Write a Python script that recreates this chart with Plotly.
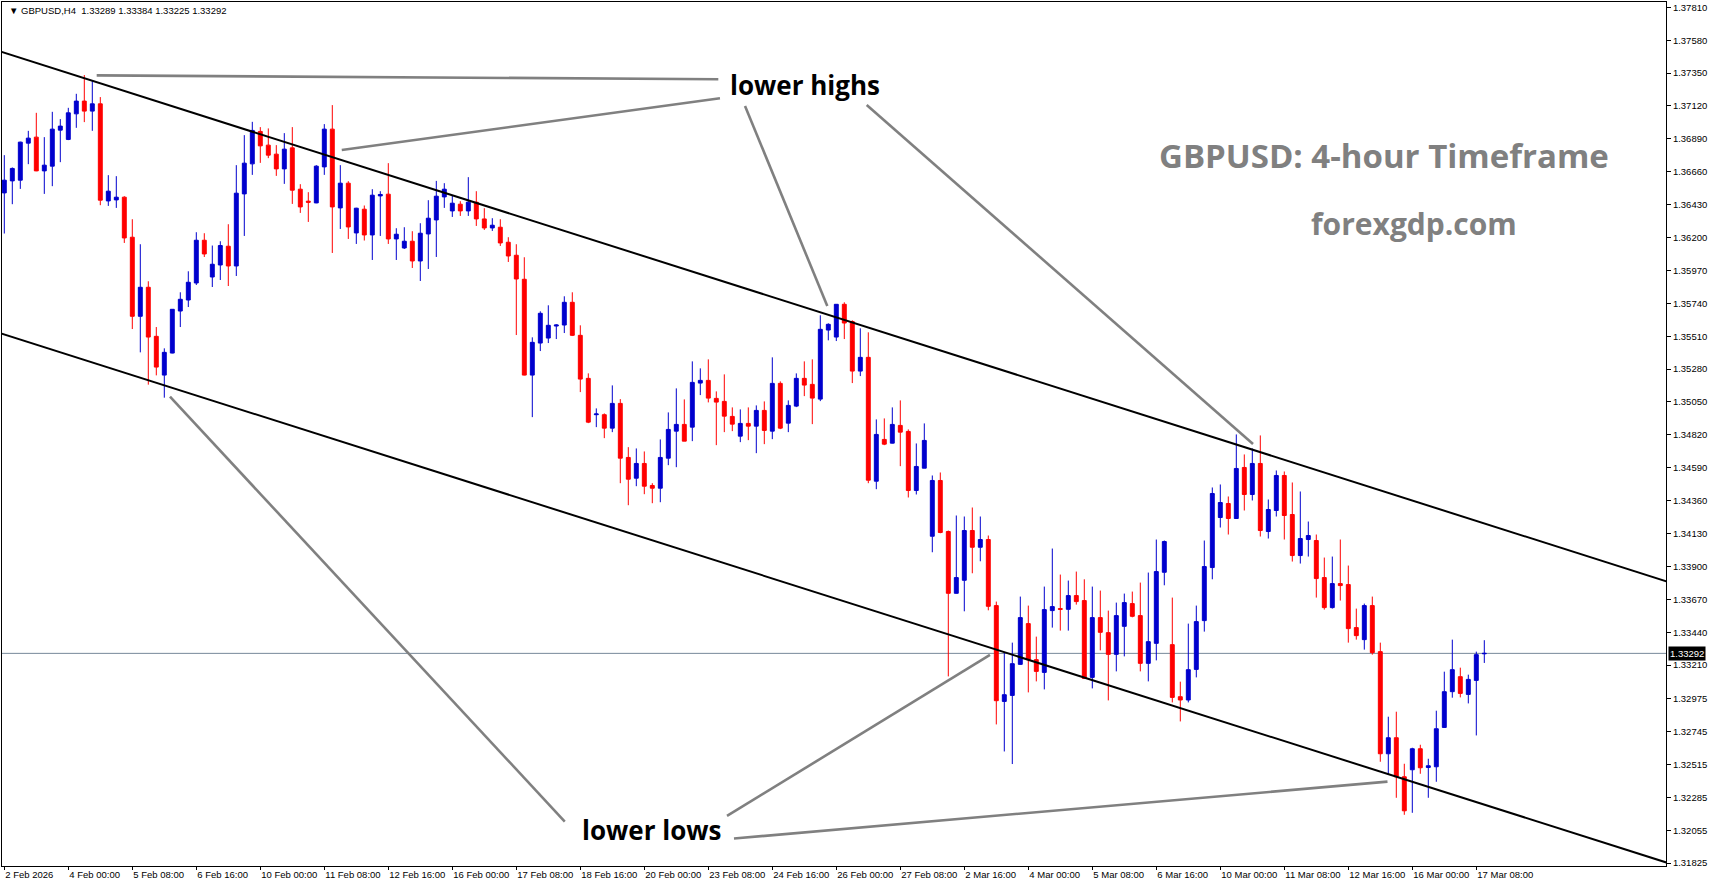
import plotly.graph_objects as go

# ---------------- data (GBPUSD H4, bar index 4 = 2 Feb 2026 16:00) ----------------
bars = list(range(4, 190))

open_ = [
    1.36512, 1.36596, 1.36601, 1.36860, 1.36902, 1.36666, 1.36699, 1.36951, 1.36886, 1.37065,
    1.37154, 1.37084, 1.37135, 1.36456, 1.36463, 1.36482, 1.36202, 1.35649, 1.35852, 1.35509,
    1.35238, 1.35392, 1.35686, 1.35763, 1.35882, 1.36181, 1.35924, 1.36008, 1.36139, 1.36001,
    1.36505, 1.36715, 1.36942, 1.36846, 1.36783, 1.36680, 1.36827, 1.36538, 1.36454, 1.36442,
    1.36694, 1.36958, 1.36407, 1.36580, 1.36232, 1.36398, 1.36218, 1.36491, 1.36503, 1.36190,
    1.36127, 1.36174, 1.36036, 1.36225, 1.36323, 1.36484, 1.36386, 1.36433, 1.36386, 1.36447,
    1.36330, 1.36267, 1.36272, 1.36167, 1.36076, 1.35908, 1.35238, 1.35462, 1.35497, 1.35581,
    1.35588, 1.35747, 1.35516, 1.35215, 1.34961, 1.34961, 1.34867, 1.35040, 1.34662, 1.34517,
    1.34620, 1.34466, 1.34447, 1.34657, 1.34846, 1.34893, 1.34874, 1.35182, 1.35201, 1.35075,
    1.35054, 1.34949, 1.34811, 1.34900, 1.34881, 1.34991, 1.34846, 1.35180, 1.34902, 1.35021,
    1.35215, 1.35173, 1.35070, 1.35553, 1.35504, 1.35733, 1.35612, 1.35266, 1.35362, 1.34496,
    1.34788, 1.34762, 1.34886, 1.34844, 1.34431, 1.34587, 1.34111, 1.34501, 1.34144, 1.33712,
    1.33803, 1.34151, 1.34034, 1.34088, 1.33626, 1.32956, 1.32998, 1.33215, 1.33500, 1.33248,
    1.33159, 1.33591, 1.33605, 1.33600, 1.33696, 1.33661, 1.33124, 1.33542, 1.33437, 1.33285,
    1.33481, 1.33640, 1.33556, 1.33222, 1.33362, 1.33859, 1.33353, 1.32989, 1.32966, 1.33180,
    1.33521, 1.33892, 1.34242, 1.34340, 1.34235, 1.34592, 1.34403, 1.34620, 1.34144, 1.34291,
    1.34536, 1.34263, 1.33976, 1.34088, 1.34081, 1.33822, 1.33612, 1.33780, 1.33773, 1.33472,
    1.33388, 1.33626, 1.33304, 1.32590, 1.32702, 1.32429, 1.32478, 1.32625, 1.32494, 1.32499,
    1.32774, 1.33024, 1.33129, 1.33005, 1.33103, 1.33289,
]
high = [
    1.36776, 1.36690, 1.36870, 1.36946, 1.37072, 1.36902, 1.37079, 1.37028, 1.37107, 1.37205,
    1.37336, 1.37301, 1.37182, 1.36636, 1.36629, 1.36489, 1.36328, 1.36153, 1.35894, 1.35574,
    1.35425, 1.35700, 1.35817, 1.35964, 1.36237, 1.36230, 1.36144, 1.36174, 1.36293, 1.36706,
    1.36916, 1.37009, 1.36972, 1.36963, 1.36846, 1.36930, 1.36972, 1.36573, 1.36517, 1.36706,
    1.36993, 1.37126, 1.36706, 1.36594, 1.36408, 1.36424, 1.36538, 1.36524, 1.36720, 1.36265,
    1.36272, 1.36244, 1.36300, 1.36461, 1.36596, 1.36580, 1.36496, 1.36454, 1.36622, 1.36524,
    1.36405, 1.36335, 1.36328, 1.36202, 1.36153, 1.36062, 1.35502, 1.35684, 1.35726, 1.35593,
    1.35789, 1.35817, 1.35586, 1.35250, 1.35005, 1.34970, 1.35166, 1.35070, 1.34734, 1.34725,
    1.34704, 1.34482, 1.34788, 1.34977, 1.35145, 1.35068, 1.35334, 1.35285, 1.35348, 1.35124,
    1.35243, 1.35012, 1.34998, 1.35012, 1.35026, 1.35054, 1.35362, 1.35194, 1.35061, 1.35250,
    1.35334, 1.35348, 1.35656, 1.35600, 1.35735, 1.35747, 1.35621, 1.35565, 1.35537, 1.34928,
    1.34935, 1.35012, 1.35061, 1.34858, 1.34760, 1.34900, 1.34536, 1.34557, 1.34151, 1.34256,
    1.34249, 1.34312, 1.34249, 1.34116, 1.33654, 1.33299, 1.33367, 1.33689, 1.33626, 1.33409,
    1.33759, 1.34025, 1.33843, 1.33801, 1.33864, 1.33810, 1.33759, 1.33731, 1.33591, 1.33647,
    1.33710, 1.33724, 1.33787, 1.33857, 1.34088, 1.34081, 1.33682, 1.33094, 1.33500, 1.33626,
    1.34081, 1.34452, 1.34473, 1.34389, 1.34823, 1.34683, 1.34725, 1.34816, 1.34368, 1.34571,
    1.34564, 1.34487, 1.34424, 1.34214, 1.34123, 1.33962, 1.33969, 1.34088, 1.33906, 1.33605,
    1.33640, 1.33689, 1.33367, 1.32849, 1.32884, 1.32520, 1.32632, 1.32653, 1.32555, 1.32891,
    1.33164, 1.33388, 1.33192, 1.33143, 1.33304, 1.33384,
]
low = [
    1.36228, 1.36433, 1.36540, 1.36713, 1.36664, 1.36505, 1.36559, 1.36727, 1.36881, 1.36967,
    1.37007, 1.36946, 1.36426, 1.36421, 1.36407, 1.36162, 1.35560, 1.35397, 1.35171, 1.35236,
    1.35080, 1.35390, 1.35574, 1.35714, 1.35868, 1.36064, 1.35854, 1.35903, 1.35861, 1.35931,
    1.36211, 1.36638, 1.36722, 1.36755, 1.36631, 1.36575, 1.36435, 1.36372, 1.36309, 1.36440,
    1.36638, 1.36092, 1.36260, 1.36190, 1.36155, 1.36179, 1.36043, 1.36211, 1.36155, 1.36043,
    1.36120, 1.35987, 1.35896, 1.35980, 1.36064, 1.36407, 1.36344, 1.36351, 1.36351, 1.36281,
    1.36253, 1.36246, 1.36141, 1.36029, 1.35518, 1.35236, 1.34944, 1.35406, 1.35462, 1.35490,
    1.35532, 1.35511, 1.35119, 1.34902, 1.34874, 1.34797, 1.34839, 1.34482, 1.34328, 1.34461,
    1.34405, 1.34342, 1.34349, 1.34608, 1.34594, 1.34776, 1.34776, 1.35098, 1.35047, 1.34748,
    1.34839, 1.34846, 1.34769, 1.34783, 1.34692, 1.34755, 1.34790, 1.34860, 1.34839, 1.35014,
    1.35091, 1.34895, 1.35056, 1.35481, 1.35476, 1.35490, 1.35182, 1.35231, 1.34482, 1.34440,
    1.34748, 1.34760, 1.34601, 1.34382, 1.34403, 1.34587, 1.33999, 1.34132, 1.33131, 1.33710,
    1.33586, 1.33852, 1.33936, 1.33593, 1.32795, 1.32606, 1.32518, 1.33213, 1.33019, 1.33096,
    1.33040, 1.33472, 1.33451, 1.33451, 1.33633, 1.33115, 1.33047, 1.33313, 1.32963, 1.33166,
    1.33271, 1.33544, 1.33166, 1.33096, 1.33243, 1.33768, 1.32949, 1.32816, 1.32949, 1.33124,
    1.33444, 1.33810, 1.34172, 1.34123, 1.34232, 1.34291, 1.34361, 1.34109, 1.34095, 1.34249,
    1.34088, 1.33934, 1.33920, 1.33969, 1.33682, 1.33598, 1.33605, 1.33661, 1.33367, 1.33388,
    1.33318, 1.33283, 1.32534, 1.32443, 1.32282, 1.32163, 1.32177, 1.32450, 1.32282, 1.32394,
    1.32772, 1.32982, 1.32984, 1.32942, 1.32718, 1.33225,
]
close = [
    1.36601, 1.36683, 1.36867, 1.36895, 1.36666, 1.36706, 1.36958, 1.36979, 1.37072, 1.37154,
    1.37084, 1.37135, 1.36461, 1.36524, 1.36482, 1.36197, 1.35649, 1.35852, 1.35504, 1.35294,
    1.35397, 1.35698, 1.35768, 1.35887, 1.36181, 1.36085, 1.36013, 1.36144, 1.36001, 1.36510,
    1.36720, 1.36949, 1.36841, 1.36776, 1.36680, 1.36818, 1.36531, 1.36414, 1.36447, 1.36699,
    1.36958, 1.36414, 1.36580, 1.36274, 1.36405, 1.36218, 1.36496, 1.36501, 1.36190, 1.36223,
    1.36174, 1.36036, 1.36230, 1.36335, 1.36489, 1.36538, 1.36440, 1.36386, 1.36447, 1.36330,
    1.36267, 1.36286, 1.36162, 1.36071, 1.35910, 1.35238, 1.35467, 1.35670, 1.35586, 1.35588,
    1.35747, 1.35516, 1.35210, 1.34909, 1.34966, 1.34867, 1.35040, 1.34657, 1.34510, 1.34620,
    1.34461, 1.34447, 1.34662, 1.34858, 1.34893, 1.34776, 1.35187, 1.35201, 1.35077, 1.35049,
    1.34951, 1.34895, 1.34900, 1.34881, 1.34991, 1.34851, 1.35180, 1.34867, 1.35026, 1.35215,
    1.35168, 1.35077, 1.35558, 1.35593, 1.35733, 1.35602, 1.35266, 1.35362, 1.34503, 1.34823,
    1.34755, 1.34893, 1.34839, 1.34431, 1.34599, 1.34781, 1.34501, 1.34137, 1.33712, 1.33822,
    1.34151, 1.34034, 1.34088, 1.33621, 1.32961, 1.33003, 1.33220, 1.33542, 1.33248, 1.33166,
    1.33598, 1.33619, 1.33600, 1.33696, 1.33654, 1.33117, 1.33542, 1.33439, 1.33285, 1.33556,
    1.33647, 1.33551, 1.33222, 1.33374, 1.33864, 1.34074, 1.32984, 1.32966, 1.33178, 1.33514,
    1.33899, 1.34410, 1.34347, 1.34235, 1.34585, 1.34403, 1.34620, 1.34151, 1.34298, 1.34536,
    1.34256, 1.33976, 1.34095, 1.34116, 1.33815, 1.33612, 1.33780, 1.33766, 1.33465, 1.33416,
    1.33626, 1.33297, 1.32590, 1.32702, 1.32429, 1.32191, 1.32625, 1.32492, 1.32506, 1.32765,
    1.33024, 1.33178, 1.33012, 1.33110, 1.33283, 1.33292,
]

label_bars = [4, 12, 20, 28, 36, 44, 52, 60, 68, 76, 84, 92, 100, 108, 116, 124,
              132, 140, 148, 156, 164, 172, 180, 188]
label_text = ["2 Feb 2026", "4 Feb 00:00", "5 Feb 08:00", "6 Feb 16:00", "10 Feb 00:00",
              "11 Feb 08:00", "12 Feb 16:00", "16 Feb 00:00", "17 Feb 08:00", "18 Feb 16:00",
              "20 Feb 00:00", "23 Feb 08:00", "24 Feb 16:00", "26 Feb 00:00", "27 Feb 08:00",
              "2 Mar 16:00", "4 Mar 00:00", "5 Mar 08:00", "6 Mar 16:00", "10 Mar 00:00",
              "11 Mar 08:00", "12 Mar 16:00", "16 Mar 00:00", "17 Mar 08:00"]

price_ticks = [1.37810, 1.37580, 1.37350, 1.37120, 1.36890, 1.36660, 1.36430, 1.36200,
               1.35970, 1.35740, 1.35510, 1.35280, 1.35050, 1.34820, 1.34590, 1.34360,
               1.34130, 1.33900, 1.33670, 1.33440, 1.33210, 1.32975, 1.32745, 1.32515,
               1.32285, 1.32055, 1.31825]

last_price = 1.33292
header_text = "\u25BC GBPUSD,H4\u00a0\u00a01.33289 1.33384 1.33225 1.33292"

# channel trend lines (bar index, price)
upper_x = [0, 215]
upper_y = [1.37563, 1.33738]
lower_x = [0, 215]
lower_y = [1.35593, 1.31772]

# grey pointer lines (x0, y0, x1, y1) in bar index / price
pointers = [
    (15.55, 1.37334, 93.25, 1.37307),
    (46.18, 1.36812, 93.46, 1.37174),
    (96.59, 1.37120, 106.875, 1.35721),
    (111.8, 1.37127, 160.09, 1.34756),
    (24.71, 1.35087, 74.06, 1.32116),
    (94.34, 1.32155, 127.21, 1.33281),
    (95.21, 1.31997, 176.9, 1.32395),
]

# ---------------- figure ----------------
BLUE = "#0000CD"
RED = "#FF0000"
AXFONT = dict(family="Liberation Sans, Arial, sans-serif", size=9.5, color="black")

fig = go.Figure()
fig.add_trace(go.Candlestick(
    x=bars, open=open_, high=high, low=low, close=close,
    increasing=dict(line=dict(color=BLUE, width=1), fillcolor=BLUE),
    decreasing=dict(line=dict(color=RED, width=1), fillcolor=RED),
    showlegend=False, hoverinfo="skip",
))
fig.add_trace(go.Scatter(x=upper_x, y=upper_y, mode="lines",
                         line=dict(color="black", width=2), showlegend=False, hoverinfo="skip"))
fig.add_trace(go.Scatter(x=lower_x, y=lower_y, mode="lines",
                         line=dict(color="black", width=2), showlegend=False, hoverinfo="skip"))

shapes = [dict(type="line", xref="paper", x0=0, x1=1, yref="y", y0=last_price, y1=last_price,
               line=dict(color="#778899", width=1), layer="below")]
for x0, y0, x1, y1 in pointers:
    shapes.append(dict(type="line", xref="x", yref="y", x0=x0, y0=y0, x1=x1, y1=y1,
                       line=dict(color="#808080", width=2.6)))

BOLD = dict(family="Open Sans, sans-serif", weight="bold")
annotations = [
    dict(text="lower highs", x=104.05, y=1.37267, xref="x", yref="y", showarrow=False,
         xanchor="center", yanchor="middle", font=dict(size=26, color="black", **BOLD)),
    dict(text="lower lows", x=84.9, y=1.32060, xref="x", yref="y", showarrow=False,
         xanchor="center", yanchor="middle", font=dict(size=26, color="black", **BOLD)),
    dict(text="GBPUSD: 4-hour Timeframe", x=0.8303, y=0.8218, xref="paper", yref="paper",
         showarrow=False, xanchor="center", yanchor="middle",
         font=dict(size=33, color="#808080", **BOLD)),
    dict(text="forexgdp.com", x=0.8484, y=0.7442, xref="paper", yref="paper",
         showarrow=False, xanchor="center", yanchor="middle",
         font=dict(size=30, color="#808080", **BOLD)),
    dict(text=header_text, x=0.003, y=0.9899, xref="paper", yref="paper", showarrow=False,
         xanchor="left", yanchor="middle", font=AXFONT),
    dict(text="%.5f" % last_price, x=1, xshift=2, xref="paper", y=last_price, yref="y",
         showarrow=False, xanchor="left", yanchor="middle", bgcolor="black", borderpad=1,
         font=dict(family="Liberation Sans, Arial, sans-serif", size=9.5, color="white")),
]

fig.update_layout(
    width=1713, height=888,
    margin=dict(l=2, r=47, t=2, b=22, pad=0),
    paper_bgcolor="white", plot_bgcolor="white",
    shapes=shapes, annotations=annotations,
    showlegend=False,
    xaxis=dict(
        range=[3.7125, 211.7125], showgrid=False, zeroline=False,
        showline=True, linecolor="black", linewidth=1, mirror=True,
        ticks="outside", ticklen=3, tickcolor="black",
        tickvals=label_bars, ticktext=label_text, ticklabelposition="outside right",
        tickangle=0, automargin=False,
        tickfont=AXFONT, rangeslider=dict(visible=False), fixedrange=True,
    ),
    yaxis=dict(
        side="right", range=[1.31805, 1.37847], showgrid=False, zeroline=False,
        showline=True, linecolor="black", linewidth=1, mirror=True,
        ticks="outside", ticklen=4, tickcolor="black",
        tickvals=price_ticks, ticktext=["%.5f" % v for v in price_ticks],
        tickfont=AXFONT, fixedrange=True, automargin=False,
    ),
)

fig.write_html("out.html")
